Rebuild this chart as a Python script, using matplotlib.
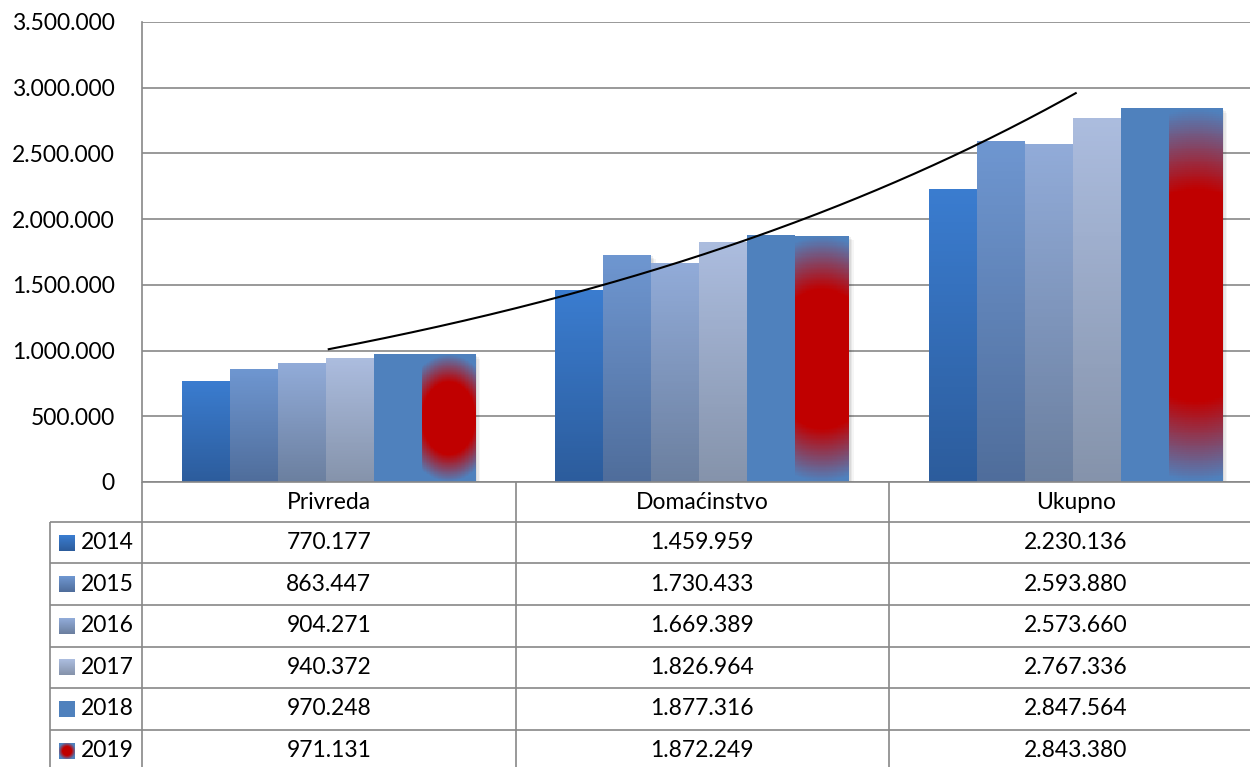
import numpy as np
import matplotlib
matplotlib.use("Agg")
import matplotlib.pyplot as plt
from matplotlib.colors import LinearSegmentedColormap

plt.rcParams['font.family'] = ['Lato', 'DejaVu Sans']

# ---------------- data ----------------
categories = ["Privreda", "Domaćinstvo", "Ukupno"]
years = ["2014", "2015", "2016", "2017", "2018", "2019"]
v2014 = [770177, 1459959, 2230136]
v2015 = [863447, 1730433, 2593880]
v2016 = [904271, 1669389, 2573660]
v2017 = [940372, 1826964, 2767336]
v2018 = [970248, 1877316, 2847564]
v2019 = [971131, 1872249, 2843380]
series = [v2014, v2015, v2016, v2017, v2018, v2019]
yticks = [0, 500000, 1000000, 1500000, 2000000, 2500000, 3000000, 3500000]

# ---------------- styles ----------------
W, H = 1250, 767
YMAX = 3.5e6
PLOT_H = 460          # px height of plot area
grad = [("#3a7ccf", "#2c5c9c"),
        ("#6e96d0", "#4f6d9b"),
        ("#91abd8", "#6b7f9f"),
        ("#abbcde", "#8593ab"),
        ("#4f81bd", "#4f81bd"),
        ("#c00000", "#4f81bd")]   # last: centre -> edge (path gradient)
GRID = "#888888"
FS = 16.5

cmaps = [LinearSegmentedColormap.from_list(f"g{k}", [g[0], g[1]]) for k, g in enumerate(grad)]


def fmt(v):
    return f"{v:,}".replace(",", ".")


def lin_t(n=80):
    # t=0 at the top, 1 at the bottom; rows ordered bottom->top for pcolormesh
    return np.linspace(1, 0, n)[:, None]


def path_t(w_px, h_px, nx=40, ny=200, c=1.33, r0=0.57, r1=1.0):
    uu = np.linspace(-1, 1, nx)
    vv = np.linspace(-1, 1, ny)
    U2, V2 = np.meshgrid(uu, vv)
    k = c * w_px / h_px
    r = np.sqrt(V2 ** 2 + (k * U2) ** 2)
    return np.clip((r - r0) / (r1 - r0), 0, 1)


def draw_grad(axx, x0, x1, y0, y1, t, cmap):
    ny, nx = t.shape
    X = np.linspace(x0, x1, nx + 1)
    Y = np.linspace(y0, y1, ny + 1)
    axx.pcolormesh(X, Y, t, cmap=cmap, vmin=0, vmax=1, shading="flat",
                   edgecolors="none", antialiased=False, zorder=2)


fig = plt.figure(figsize=(W / 100, H / 100), dpi=100)
fig.patch.set_facecolor("white")

U = 373.5  # px per category unit
ax = fig.add_axes([142 / W, (H - 482) / H, (1262.5 - 142) / W, PLOT_H / H])
ax.set_facecolor("white")

x = np.arange(1, len(categories) + 1)
bw_px, bw_last_px = 48, 54
bw = bw_px / U
bw_last = bw_last_px / U
off = -147 / U

t_lin = lin_t()
for j, vals in enumerate(series):
    last = j == len(series) - 1
    for i, c in enumerate(x):
        x0 = c + off + j * bw
        w = bw_last if last else bw
        h = vals[i]
        # soft shadow
        for k, a in ((4.5, 0.04), (3, 0.05), (1.5, 0.06)):
            ax.add_patch(plt.Rectangle((x0 + k / U, 0), w, h - k * YMAX / PLOT_H,
                                       facecolor="black", alpha=a, lw=0, zorder=1.5))
        if last:
            t = path_t(bw_last_px, h / YMAX * PLOT_H)
        else:
            t = t_lin
        draw_grad(ax, x0, x0 + w, 0, h, t, cmaps[j])

# exponential trendline fitted to the 2019 series
b, a = np.polyfit(x, np.log(v2019), 1)
xt = np.linspace(x[0], x[-1], 200)
ax.plot(xt, np.exp(a + b * xt), color="black", lw=1.5, zorder=3)

ax.set_xlim(0.5, 3.5)
ax.set_ylim(0, YMAX)
ax.set_yticks(yticks)
ax.set_yticklabels([fmt(v) for v in yticks], fontsize=FS)
ax.tick_params(axis="y", length=0, pad=19.5)
ax.set_xticks([])
ax.grid(axis="y", color=GRID, lw=1.2, zorder=0)
ax.set_axisbelow(True)
for s in ("top", "right", "bottom"):
    ax.spines[s].set_visible(False)
ax.spines["left"].set_color(GRID)
ax.spines["left"].set_linewidth(1.2)

# ---------------- data table ----------------
ov = fig.add_axes([0, 0, 1, 1], zorder=5)
ov.set_xlim(0, W)
ov.set_ylim(H, 0)
ov.axis("off")
ov.patch.set_alpha(0)

col_edges = [142, 515.5, 889, 1262.5]
head_top, head_bot = 482, 521.7
row_h = 41.6
n_rows = len(years)
row_edges = [head_bot + k * row_h for k in range(n_rows + 1)]

lk = dict(color=GRID, lw=1.2, solid_capstyle="butt")
ov.plot([142, W], [head_top, head_top], **lk)
for xe in col_edges[:-1]:
    ov.plot([xe, xe], [head_top, H], **lk)
ov.plot([50, 50], [head_bot, H], **lk)
for ye in row_edges:
    ov.plot([50, W], [ye, ye], **lk)

for i, cat in enumerate(categories):
    cx = (col_edges[i] + col_edges[i + 1]) / 2
    ov.text(cx, (head_top + head_bot) / 2 + 1, cat, ha="center", va="center", fontsize=FS)

t_key_lin = np.linspace(0, 1, 16)[:, None]          # y axis inverted here
t_key_path = path_t(16, 16, nx=16, ny=16, c=1.0, r0=0.6, r1=1.15)
for r, (yr, vals) in enumerate(zip(years, series)):
    cy = row_edges[r] + row_h / 2
    tk = t_key_path if r == len(years) - 1 else t_key_lin
    draw_grad(ov, 59, 75, cy - 8, cy + 8, tk, cmaps[r])
    ov.text(81, cy, yr, ha="left", va="center", fontsize=FS)
    for i, v in enumerate(vals):
        cx = (col_edges[i] + col_edges[i + 1]) / 2
        ov.text(cx, cy, fmt(v), ha="center", va="center", fontsize=FS)

ov.set_xlim(0, W)
ov.set_ylim(H, 0)

fig.savefig("out.png", dpi=100, facecolor="white")
